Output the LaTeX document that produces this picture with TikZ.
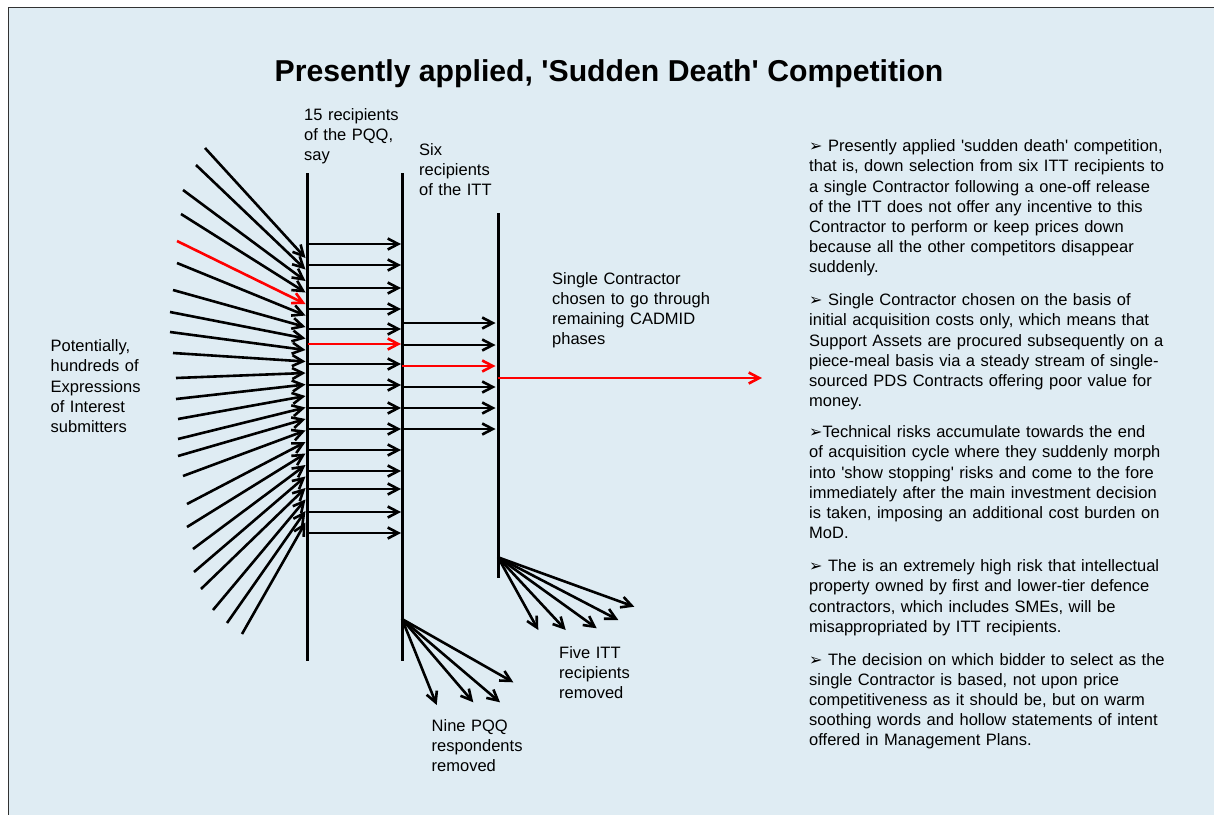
\documentclass[tikz,border=0pt]{standalone}
\usepackage{fontspec}
\newfontfamily\arial{Liberation Sans}
\newfontfamily\dejavu{DejaVu Sans}
\usetikzlibrary{arrows.meta}
\definecolor{bg}{RGB}{223,236,243}
\definecolor{framegray}{RGB}{50,50,50}
\definecolor{myred}{RGB}{255,0,0}
\newcommand{\bul}{{\dejavu\fontsize{16}{16}\selectfont ➢}}
\begin{document}
\begin{tikzpicture}[x=1pt,y=-1pt,
  body/.style={font=\arial\fontsize{16.5}{20.2}\selectfont, inner sep=0pt, anchor=base west, align=left, text width=420pt},
  vline/.style={line width=3pt, black},
  arr/.style={line width=2.6pt, -{Straight Barb[length=10.5pt,width=11pt]}},
]
\useasboundingbox (0,0) rectangle (1214,814);
\fill[white] (0,0) rectangle (1214,814);
\filldraw[fill=bg, draw=framegray, line width=1pt] (8.3,7.3) rectangle (1240,840);

% title
\node[font=\arial\fontsize{30.2}{36}\selectfont\bfseries, anchor=base, inner sep=0pt] (title) at (609,81) {Presently applied, 'Sudden Death' Competition};

% vertical lines
\coordinate (l1t) at (307.5,173); \coordinate (l1b) at (307.5,661);
\coordinate (l2t) at (402,173);   \coordinate (l2b) at (402,661);
\coordinate (l3t) at (498,213);   \coordinate (l3b) at (498,578);
\draw[vline] (l1t) -- (l1b);
\draw[vline] (l2t) -- (l2b);
\draw[vline] (l3t) -- (l3b);

% incoming fan
\foreach \x/\y [count=\i] in {205/148,196/165,183/190,181/214,177/241,177/263,173/290,170/312,170/332,173/353,176/378,176/399,178/419,178/439,178/456,183/476,187/504,187/527,193/549,194/572,201/589,213/610,227/623,242/634}{
  \coordinate (fs\i) at (\x,\y);
  \coordinate (ft\i) at (305.5,{258+11.5*(\i-1)});
  \ifnum\i=5\else\draw[arr] (fs\i) -- (ft\i);\fi
}
\draw[arr,myred] (fs5) -- (ft5);

% line 1 -> line 2
\foreach \y [count=\i] in {244,265,288,309,329,344,364,385,408,429,450,471,489,512,533}{
  \coordinate (as\i) at (307.5,\y);
  \coordinate (at\i) at (401,\y);
  \ifnum\i=6\else\draw[arr] (as\i) -- (at\i);\fi
}
\draw[arr,myred] (as6) -- (at6);

% line 2 -> line 3
\foreach \y [count=\i] in {323,345,366,387,408,429}{
  \coordinate (bs\i) at (402,\y);
  \coordinate (bt\i) at (495.5,\y);
  \ifnum\i=3\else\draw[arr] (bs\i) -- (bt\i);\fi
}
\draw[arr,myred] (bs3) -- (bt3);

% line 3 -> single contractor
\coordinate (cs) at (498,378);
\coordinate (ct) at (762,378);
\draw[arr,myred] (cs) -- (ct);

% removed fans
\coordinate (o2) at (402,619);
\foreach \x/\y [count=\i] in {436.7/705,473.3/702.3,500/702.3,513.3/682.3}{
  \coordinate (r2\i) at (\x,\y);
  \draw[arr] (o2) -- (r2\i);
}
\coordinate (o3) at (498,557.3);
\foreach \x/\y [count=\i] in {538.3/630,565.7/630,596.7/628.3,618.3/620,634.3/606.7}{
  \coordinate (r3\i) at (\x,\y);
  \draw[arr] (o3) -- (r3\i);
}

% labels
\node[body] (pqq) at (304,120) {15 recipients\\of the PQQ,\\say};
\node[body] (itt) at (419,155) {Six\\recipients\\of the ITT};
\node[body] (single) at (552,284) {Single Contractor\\chosen to go through\\remaining CADMID\\phases};
\node[body] (eoi) at (50.5,351.7) {Potentially,\\hundreds of\\Expressions\\of Interest\\submitters};
\node[body] (nine) at (431.5,731) {Nine PQQ\\respondents\\removed};
\node[body] (five) at (559,658.3) {Five ITT\\recipients\\removed};

% text block
\node[body] (p1) at (809,151.7) {\bul\ Presently applied 'sudden death' competition,\\that is, down selection from six ITT recipients to\\a single Contractor following a one-off release\\of the ITT does not offer any incentive to this\\Contractor to perform or keep prices down\\because all the other competitors disappear\\suddenly.};
\node[body] (p2) at (809,305.7) {\bul\ Single Contractor chosen on the basis of\\initial acquisition costs only, which means that\\Support Assets are procured subsequently on a\\piece-meal basis via a steady stream of single-\\sourced PDS Contracts offering poor value for\\money.};
\node[body] (p3) at (809,437.7) {\bul Technical risks accumulate towards the end\\of acquisition cycle where they suddenly morph\\into 'show stopping' risks and come to the fore\\immediately after the main investment decision\\is taken, imposing an additional cost burden on\\MoD.};
\node[body] (p4) at (809,571.7) {\bul\ The is an extremely high risk that intellectual\\property owned by first and lower-tier defence\\contractors, which includes SMEs, will be\\misappropriated by ITT recipients.};
\node[body] (p5) at (809,665) {\bul\ The decision on which bidder to select as the\\single Contractor is based, not upon price\\competitiveness as it should be, but on warm\\soothing words and hollow statements of intent\\offered in Management Plans.};
\end{tikzpicture}
\end{document}
